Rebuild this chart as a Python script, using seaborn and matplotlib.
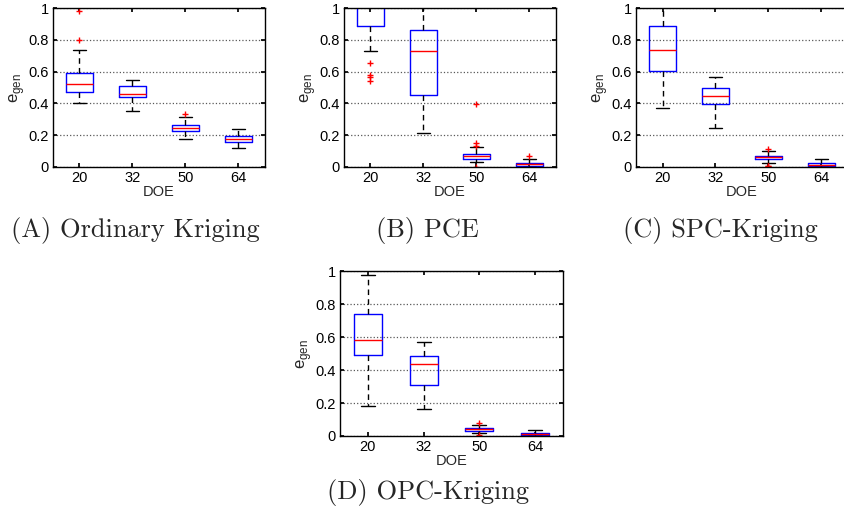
import numpy as np
import pandas as pd
import seaborn as sns
import matplotlib.pyplot as plt

sns.set_theme(style="ticks")
plt.rcParams['font.family'] = ['Liberation Sans', 'DejaVu Sans']
plt.rcParams['mathtext.fontset'] = 'custom'
plt.rcParams['mathtext.rm'] = 'Liberation Sans'

doe = [20, 32, 50, 64]

# box stats per DOE: whisker low, q1, median, q3, whisker high
ok_lo = [0.402, 0.352, 0.173, 0.122]
ok_q1 = [0.474, 0.438, 0.225, 0.158]
ok_med = [0.520, 0.457, 0.248, 0.175]
ok_q3 = [0.589, 0.512, 0.265, 0.194]
ok_hi = [0.733, 0.547, 0.314, 0.242]
ok_out = [[0.981, 0.800], [], [0.333], []]

pce_lo = [0.731, 0.215, 0.034, 0.000]
pce_q1 = [0.884, 0.455, 0.051, 0.006]
pce_med = [1.010, 0.731, 0.069, 0.017]
pce_q3 = [1.030, 0.863, 0.082, 0.027]
pce_hi = [1.150, 1.050, 0.124, 0.051]
pce_out = [[0.653, 0.579, 0.568, 0.543], [], [0.394, 0.150, 0.135, 0.003], [0.072]]

spc_lo = [0.368, 0.246, 0.027, 0.000]
spc_q1 = [0.604, 0.394, 0.048, 0.004]
spc_med = [0.737, 0.448, 0.061, 0.015]
spc_q3 = [0.884, 0.497, 0.072, 0.025]
spc_hi = [1.050, 0.564, 0.101, 0.051]
spc_out = [[], [], [0.112, 0.008, 0.004], []]

opc_lo = [0.182, 0.166, 0.018, 0.000]
opc_q1 = [0.490, 0.312, 0.033, 0.004]
opc_med = [0.583, 0.435, 0.043, 0.012]
opc_q3 = [0.737, 0.482, 0.049, 0.020]
opc_hi = [0.976, 0.569, 0.067, 0.038]
opc_out = [[], [], [0.077, 0.006], []]


def sample(lo, q1, med, q3, hi, out):
    # expand the five numbers to a sample whose quartiles match them
    low = [v for v in out if v < med] + [lo]
    high = [v for v in out if v > med] + [hi]
    while len(low) < len(high):
        low.append(lo)
    while len(high) < len(low):
        high.append(hi)
    k = len(low) + 3
    return low + [q1] * k + [med] + [q3] * k + high


def make_df(lo, q1, med, q3, hi, out):
    rows = []
    for i, d in enumerate(doe):
        for v in sample(lo[i], q1[i], med[i], q3[i], hi[i], out[i]):
            rows.append((d, v))
    return pd.DataFrame(rows, columns=["DOE", "e"])


panels = [
    (make_df(ok_lo, ok_q1, ok_med, ok_q3, ok_hi, ok_out), [0.0628, 0.677, 0.251, 0.3075]),
    (make_df(pce_lo, pce_q1, pce_med, pce_q3, pce_hi, pce_out), [0.4076, 0.677, 0.251, 0.3075]),
    (make_df(spc_lo, spc_q1, spc_med, spc_q3, spc_hi, spc_out), [0.7536, 0.677, 0.251, 0.3075]),
    (make_df(opc_lo, opc_q1, opc_med, opc_q3, opc_hi, opc_out), [0.4028, 0.1567, 0.2642, 0.319]),
]

fig = plt.figure(figsize=(8.44, 5.17), dpi=100)

for df, pos in panels:
    ax = fig.add_axes(pos)
    sns.boxplot(data=df, x="DOE", y="e", order=doe, ax=ax, fill=False,
                color="blue", width=0.5, whis=1.5, linewidth=1,
                medianprops={"color": "red"},
                whiskerprops={"color": "black", "linestyle": (0, (4, 3))},
                capprops={"color": "black"},
                flierprops={"marker": "+", "markeredgecolor": "red",
                            "markersize": 4, "markeredgewidth": 1})
    ax.set_ylim(0, 1)
    ax.set_xlim(-0.5, 3.5)
    ax.set_yticks([0, 0.2, 0.4, 0.6, 0.8, 1])
    ax.set_yticklabels(["0", "0.2", "0.4", "0.6", "0.8", "1"])
    ax.yaxis.grid(True, linestyle=":", color="0.35", linewidth=0.9)
    ax.set_axisbelow(True)
    ax.tick_params(direction="in", top=True, right=True, labelsize=10.5,
                   length=3, pad=3, colors="black")
    for s in ax.spines.values():
        s.set_color("black")
        s.set_linewidth(1)
    ax.set_xlabel("DOE", fontsize=10.5, labelpad=0)
    ax.set_ylabel(r"$\mathrm{e}_{\mathrm{gen}}$", fontsize=12, labelpad=1)

captions = [("(A) Ordinary Kriging", 0.16, 0.555), ("(B) PCE", 0.507, 0.555),
            ("(C) SPC-Kriging", 0.853, 0.555), ("(D) OPC-Kriging", 0.507, 0.048)]
for txt, x, y in captions:
    fig.text(x, y, txt, ha="center", va="center", fontsize=19, family="cmr10")

fig.savefig("out.png", dpi=100)
